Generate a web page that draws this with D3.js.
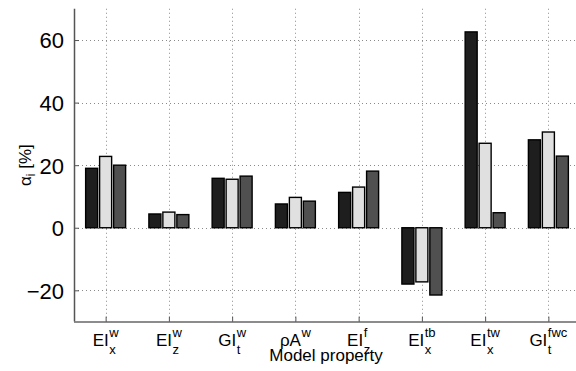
<!DOCTYPE html>
<html>
<head>
<meta charset="utf-8">
<script src="https://cdn.jsdelivr.net/npm/d3@7"></script>
<style>
  html, body { margin: 0; padding: 0; background: #fff; }
  svg { display: block; font-family: "Liberation Sans", Arial, Helvetica, sans-serif; }
</style>
</head>
<body>
<svg id="chart" width="576" height="371"></svg>
<script>
// Model properties (base symbol, superscript, subscript)
const propBase = ["EI", "EI", "GI", "\u03C1A", "EI", "EI", "EI", "GI"];
const propSup  = ["w", "w", "w", "w", "f", "tb", "tw", "fwc"];
const propSub  = ["x", "z", "t", "", "z", "x", "x", "t"];

// Sensitivity alpha_i [%] for the three cases
const seriesA = [19.0, 4.4, 15.8, 7.6, 11.3, -18.0, 62.6, 28.1];
const seriesB = [22.8, 5.0, 15.5, 9.7, 13.0, -17.3, 27.0, 30.6];
const seriesC = [20.0, 4.2, 16.5, 8.5, 18.1, -21.5, 4.8, 22.9];

const yTicks = [-20, 0, 20, 40, 60];

const series = [
  { values: seriesA, fill: "#1e1e1e", offset: -0.221 },
  { values: seriesB, fill: "#e0e0e0", offset: 0 },
  { values: seriesC, fill: "#505050", offset: 0.221 }
];

const svg = d3.select("#chart");
const plotL = 74, plotR = 580, plotT = 8.75, plotB = 321.6;

const x = d3.scaleLinear().domain([0.5, 8.5]).range([plotL, plotR]);
const y = d3.scaleLinear().domain([-30, 70]).range([plotB, plotT]);
const barW = 0.19;

// Dotted grid
const grid = svg.append("g").attr("stroke", "#8a8a8a").attr("stroke-width", 1)
  .attr("stroke-dasharray", "1,3");
grid.selectAll("line.h").data(yTicks).join("line").attr("class", "h")
  .attr("x1", plotL).attr("x2", plotR)
  .attr("y1", d => Math.round(y(d)) + 0.5).attr("y2", d => Math.round(y(d)) + 0.5);
grid.selectAll("line.v").data(d3.range(1, 9)).join("line").attr("class", "v")
  .attr("x1", d => Math.round(x(d)) + 0.5).attr("x2", d => Math.round(x(d)) + 0.5)
  .attr("y1", plotT).attr("y2", plotB);

// Bars
series.forEach(s => {
  svg.append("g").selectAll("rect").data(s.values).join("rect")
    .attr("x", (d, i) => x(i + 1 + s.offset - barW / 2))
    .attr("width", x(barW) - x(0))
    .attr("y", d => y(Math.max(0, d)))
    .attr("height", d => Math.abs(y(d) - y(0)))
    .attr("fill", s.fill)
    .attr("stroke", "#000")
    .attr("stroke-width", 1.4);
});

// Axes
const yAxis = d3.axisLeft(y).tickValues(yTicks).tickSize(-5).tickPadding(10)
  .tickFormat(d => d < 0 ? "\u2212" + Math.abs(d) : d);
const gy = svg.append("g").attr("transform", `translate(${plotL},0)`).call(yAxis);
gy.select(".domain").attr("stroke", "#555").attr("stroke-width", 1.5)
  .attr("d", `M0.5,${plotT}V${plotB}`);
gy.selectAll(".tick line").attr("stroke", "#555");
gy.selectAll(".tick text").attr("font-size", 22).attr("fill", "#000")
  .attr("font-family", "Liberation Sans, Arial, sans-serif").attr("dy", "0.36em");

const xAxis = d3.axisBottom(x).tickValues(d3.range(1, 9)).tickSize(-5).tickFormat("");
const gx = svg.append("g").attr("transform", `translate(0,${plotB})`).call(xAxis);
gx.select(".domain").attr("stroke", "#666").attr("stroke-width", 1.5)
  .attr("d", `M${plotL},0.5H${plotR}`);
gx.selectAll(".tick line").attr("stroke", "#555");

// Category labels with super/subscripts
propBase.forEach((b, i) => {
  const g = svg.append("g");
  const base = g.append("text").attr("y", 345.5).attr("font-size", 17).text(b);
  const bw = base.node().getComputedTextLength();
  const sup = g.append("text").attr("x", bw + 0.5).attr("y", 336.5).attr("font-size", 13).text(propSup[i]);
  const sub = g.append("text").attr("x", bw + 0.5).attr("y", 354).attr("font-size", 13).text(propSub[i]);
  const w = bw + 0.5 + Math.max(sup.node().getComputedTextLength(), sub.node().getComputedTextLength());
  g.attr("transform", `translate(${x(i + 1) - w / 2},0)`);
});

// Axis titles
svg.append("text").attr("x", (plotL + plotR) / 2 - 1).attr("y", 361)
  .attr("text-anchor", "middle").attr("font-size", 17).text("Model property");

const yl = svg.append("text").attr("transform", `translate(31,${(plotT + plotB) / 2}) rotate(-90)`)
  .attr("text-anchor", "middle").attr("font-size", 17);
yl.append("tspan").text("\u03B1");
yl.append("tspan").attr("font-size", 12).attr("dy", 4).text("i");
yl.append("tspan").attr("dy", -4).text(" [%]");
</script>
</body>
</html>
